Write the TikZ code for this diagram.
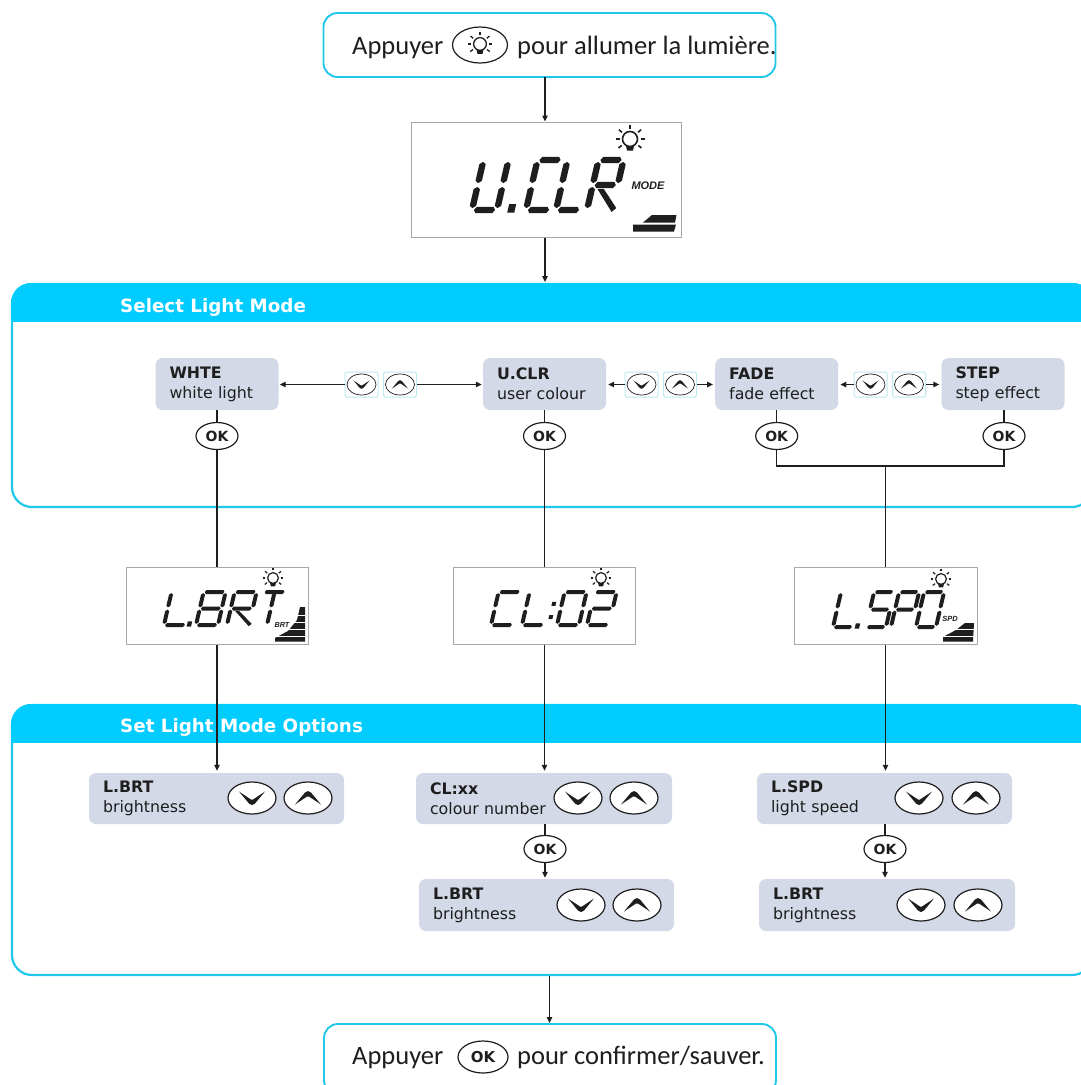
\documentclass[tikz,border=0pt]{standalone}
\usepackage{fontspec}
\setmainfont{Carlito}
\newfontfamily\vfont{DejaVu Sans}
\newfontfamily\afont{Liberation Sans}
\usetikzlibrary{arrows.meta,shapes.geometric}
\definecolor{cyanhead}{HTML}{00CCFF}
\definecolor{cyanline}{HTML}{22C8EA}
\definecolor{boxgray}{HTML}{D3D9E7}
\definecolor{palecyan}{HTML}{BDE9EE}
\definecolor{lcdline}{HTML}{A8A8A8}
\definecolor{ink}{HTML}{1E1E1E}
\tikzset{
 conn/.style={draw=ink,line width=1.3pt},
 arr/.style={conn,-{Triangle[length=6pt,width=5.5pt]}},
 callout/.style={draw=cyanline,line width=1.9pt,rounded corners=14pt,fill=white,inner sep=0pt},
 lcdbox/.style={draw=lcdline,line width=1pt,fill=white,inner sep=0pt},
 infobox/.style={fill=boxgray,rounded corners=7pt,inner ysep=0pt,inner xsep=14pt,align=left,
   font=\vfont\fontsize{15.8}{20}\selectfont,text=ink},
 okbtn/.style={ellipse,draw=ink,line width=1.2pt,fill=white,inner sep=0pt,minimum width=42pt,minimum height=27pt,
   font=\vfont\bfseries\fontsize{14}{14}\selectfont,text=ink},
 keybtn/.style={ellipse,draw=ink,line width=1.2pt,fill=white,inner sep=0pt},
 keyframe/.style={draw=palecyan,line width=1pt,fill=white,inner sep=0pt,rounded corners=1.5pt,minimum width=33pt,minimum height=25pt},
 paneltitle/.style={anchor=base west,text=white,font=\vfont\bfseries\fontsize{18.3}{18.3}\selectfont,inner sep=0pt},
 bigtext/.style={anchor=base west,inner sep=0pt,text=ink,font=\fontsize{26.5}{26.5}\selectfont},
 lcdlabel/.style={text=ink,inner sep=0pt,font=\afont\bfseries\itshape},
 seg/.style={fill=ink,draw=none}
}
\newcommand{\chev}{\fill[ink] (-13,-6.5) -- (-1,1.5) -- (1,1.5) -- (13,-6.5) -- (3,5.5) -- (0,7) -- (-3,5.5) -- cycle;}
\newcommand{\keyb}[7]{%
 \node[keybtn,minimum width=#4pt,minimum height=#5pt] (#1) at (#2,#3) {};
 \begin{scope}[shift={(#2,#3)},scale=#6,yscale=#7]\chev\end{scope}}
\newcommand{\bigkeys}[4]{\keyb{#1d}{#2}{#4}{48}{32}{1}{1}\keyb{#1u}{#3}{#4}{48}{32}{1}{-1}}
\newcommand{\smallkeys}[2]{%
 \node[keyframe] (#1fd) at (#2+16.5,384.5) {};
 \node[keyframe] (#1fu) at (#2+55,384.5) {};
 \node[keybtn,line width=.7pt,minimum width=29pt,minimum height=21pt] (#1d) at (#2+16.5,384.5) {};
 \node[keybtn,line width=.7pt,minimum width=29pt,minimum height=21pt] (#1u) at (#2+55,384.5) {};
 \begin{scope}[shift={(#2+16.5,384.5)},scale=.62]\chev\end{scope}
 \begin{scope}[shift={(#2+55,384.5)},scale=.62,yscale=-1]\chev\end{scope}}
\newcommand{\lamp}[4]{%
 \begin{scope}[shift={(#1,#2)},scale=#3]
  \draw[ink,line width=#4pt] (0,0) circle (7.5);
  \fill[ink] (-4,7) -- (4,7) -- (3,11.5) -- (-3,11.5) -- cycle;
  \foreach \a in {-90,-40,-140,0,180,38,142}
   \draw[ink,line width=#4pt] ({cos(\a)*10.5},{sin(\a)*10.5}) -- ({cos(\a)*14.5},{sin(\a)*14.5});
 \end{scope}}
\newcommand{\hs}[3]{\fill[seg] ({#1},{#3}) -- ({#1+\lT*.35},{#3-\lT/2}) -- ({#2-\lT*.35},{#3-\lT/2}) -- ({#2},{#3}) -- ({#2-\lT*.35},{#3+\lT/2}) -- ({#1+\lT*.35},{#3+\lT/2}) -- cycle;}
\newcommand{\vs}[3]{\fill[seg] ({#1},{#2}) -- ({#1+\lT/2},{#2+\lT*.35}) -- ({#1+\lT/2},{#3-\lT*.35}) -- ({#1},{#3}) -- ({#1-\lT/2},{#3-\lT*.35}) -- ({#1-\lT/2},{#2+\lT*.35}) -- cycle;}
\newcommand{\lsa}{\hs{\lG}{\lW-\lG}{-\lH}}
\newcommand{\lsb}{\vs{\lW}{-\lH+\lG}{-\lH/2-\lG}}
\newcommand{\lsc}{\vs{\lW}{-\lH/2+\lG}{-\lG}}
\newcommand{\lsd}{\hs{\lG}{\lW-\lG}{0}}
\newcommand{\lse}{\vs{0}{-\lH/2+\lG}{-\lG}}
\newcommand{\lsf}{\vs{0}{-\lH+\lG}{-\lH/2-\lG}}
\newcommand{\lsg}{\hs{\lG}{\lW-\lG}{-\lH/2}}
\newcommand{\lsi}{\vs{\lW/2}{-\lH+\lG}{-\lH/2-\lG}\vs{\lW/2}{-\lH/2+\lG}{-\lG}}
\newcommand{\lsr}{\fill[seg] ({\lW*.22},{-\lH/2+\lT*.6}) -- ({\lW*.22+\lT},{-\lH/2+\lT*.6}) -- ({\lW+\lT*.6},{-\lG}) -- ({\lW},{\lT*.3}) -- cycle;}
\newcommand{\lsdot}{\fill[seg] ({-\lT/2},{-\lT*.9}) rectangle ({\lT*.6},{\lT*.4});}
\newcommand{\lscol}{\fill[seg] ({-\lT*.5},{-\lH*.3}) rectangle ({\lT*.5},{-\lH*.3+\lT}); \fill[seg] ({-\lT*.5},{-\lH*.7}) rectangle ({\lT*.5},{-\lH*.7+\lT});}
\newcommand{\dg}[2]{\begin{scope}[xshift=#1pt]#2\end{scope}}
\newcommand{\lcdword}[6]{%
 \begin{scope}[shift={(#1,#2)},xslant=.23]
  \def\lW{#3}\def\lH{#4}\def\lT{#5}\pgfmathsetmacro\lG{#5*.3}
  #6
 \end{scope}}
\begin{document}
\begin{tikzpicture}[x=1pt,y=-1pt]
\useasboundingbox (0,0) rectangle (1081,1085);
\fill[white] (0,0) rectangle (1081,1085);
\clip (0,0) rectangle (1081,1085);

% panels
\draw[cyanline,line width=2.2pt,rounded corners=20pt,fill=white] (12,284) rectangle (1092,507);
\begin{scope}
 \clip (0,270) rectangle (1100,321);
 \fill[cyanhead,rounded corners=20pt] (11,283) rectangle (1093,360);
\end{scope}
\draw[cyanline,line width=2.2pt,rounded corners=20pt,fill=white] (12,705) rectangle (1092,975);
\begin{scope}
 \clip (0,690) rectangle (1100,742);
 \fill[cyanhead,rounded corners=20pt] (11,704) rectangle (1093,780);
\end{scope}
\node[paneltitle] (tselect) at (120,312) {Select Light Mode};
\node[paneltitle] (tset) at (120,732) {Set Light Mode Options};

% top and bottom callouts
\node[callout,minimum width=452pt,minimum height=64pt] (topbox) at (549.5,45) {};
\node[bigtext] (ttop1) at (352,54) {Appuyer};
\node[keybtn,minimum width=55pt,minimum height=36pt] (lampkey) at (480,45) {};
\lamp{480}{44}{.85}{1.3}
\node[bigtext] (ttop2) at (517,54) {pour allumer la lumière.};
\node[callout,minimum width=452pt,minimum height=70pt] (botbox) at (550,1059) {};
\node[bigtext] (tbot1) at (352,1064) {Appuyer};
\node[okbtn,minimum width=50pt,minimum height=32pt,font=\vfont\bfseries\fontsize{15}{15}\selectfont] (okbot) at (483,1057) {OK};
\node[bigtext] (tbot2) at (517,1064) {pour confirmer/sauver.};

% LCD boxes
\node[lcdbox,minimum width=270pt,minimum height=115pt] (lcdmode) at (546,179.5) {};
\node[lcdbox,minimum width=182pt,minimum height=77pt] (lcdbrt) at (217,606) {};
\node[lcdbox,minimum width=182pt,minimum height=77pt] (lcdcl) at (544.5,606) {};
\node[lcdbox,minimum width=183pt,minimum height=77pt] (lcdspd) at (885.5,606) {};

% info boxes
\node[infobox,text width=95pt,minimum height=52pt] (whte) at (217,384) {\textbf{WHTE}\\white light};
\node[infobox,text width=95pt,minimum height=52pt] (uclr) at (544.5,384) {\textbf{U.CLR}\\user colour};
\node[infobox,text width=95pt,minimum height=52pt] (fade) at (776.7,384) {\textbf{FADE}\\fade effect};
\node[infobox,text width=95pt,minimum height=52pt] (nstep) at (1003,384) {\textbf{STEP}\\step effect};
\node[infobox,text width=227pt,minimum height=51pt] (obrt) at (216.5,798.5) {\textbf{L.BRT}\\brightness};
\node[infobox,text width=228pt,minimum height=51pt] (ocl) at (544,798.5) {\textbf{CL:xx}\\colour number};
\node[infobox,text width=227pt,minimum height=51pt] (ospd) at (884.5,798.5) {\textbf{L.SPD}\\light speed};
\node[infobox,text width=227pt,minimum height=52pt] (obrtb) at (546.5,905) {\textbf{L.BRT}\\brightness};
\node[infobox,text width=228pt,minimum height=52pt] (obrtc) at (887,905) {\textbf{L.BRT}\\brightness};

% OK keys
\node[okbtn] (okw) at (217,436) {OK};
\node[okbtn] (oku) at (544.5,436) {OK};
\node[okbtn] (okf) at (776.7,436) {OK};
\node[okbtn] (oks) at (1004,436) {OK};
\node[okbtn] (okb) at (545,849) {OK};
\node[okbtn] (okc) at (885,849) {OK};

% arrow keys
\smallkeys{ka}{345}
\smallkeys{kb}{625}
\smallkeys{kc}{854}
\bigkeys{ko}{252}{308}{798}
\bigkeys{kp}{578}{634}{798}
\bigkeys{kq}{919}{976}{798}
\bigkeys{kr}{581}{637}{905}
\bigkeys{ks}{921}{978}{905}

% connectors
\coordinate (jn) at (885.5,466);
\coordinate (ta) at (545,77);
\coordinate (tb) at (545,237.5);
\coordinate (ptop) at (545,282);
\draw[arr] (ta) -- (ta |- lcdmode.north);
\draw[arr] (tb) -- (ptop);
\draw[conn] (whte.south) -- (okw.north);
\draw[conn] (uclr.south) -- (oku.north);
\draw[conn] (fade.south) -- (okf.north);
\draw[conn] (nstep.south -| oks.north) -- (oks.north);
\draw[conn] (okw.south) -- (lcdbrt.north);
\draw[conn] (oku.south) -- (lcdcl.north);
\draw[conn] (okf.south) |- (jn);
\draw[conn] (oks.south) |- (jn);
\draw[conn] (jn) -- (lcdspd.north);
\draw[arr,shorten >=2pt] (lcdbrt.south) -- (lcdbrt.south |- obrt.north);
\draw[arr,shorten >=2pt] (lcdcl.south) -- (lcdcl.south |- ocl.north);
\draw[arr,shorten >=2pt] (lcdspd.south) -- (lcdspd.south |- ospd.north);
\draw[conn] (okb.north |- ocl.south) -- (okb.north);
\draw[conn] (okc.north |- ospd.south) -- (okc.north);
\draw[arr,shorten >=1pt] (okb.south) -- (okb.south |- obrtb.north);
\draw[arr,shorten >=1pt] (okc.south) -- (okc.south |- obrtc.north);
\draw[arr] (kafd.west) -- ([xshift=1pt]whte.east |- kafd.west);
\draw[arr] (kafu.east) -- ([xshift=-1pt]uclr.west |- kafu.east);
\draw[arr] (kbfd.west) -- ([xshift=2pt]uclr.east |- kbfd.west);
\draw[arr] (kbfu.east) -- ([xshift=-2pt]fade.west |- kbfu.east);
\draw[arr] (kcfd.west) -- ([xshift=2pt]fade.east |- kcfd.west);
\draw[arr] (kcfu.east) -- ([xshift=-2pt]nstep.west |- kcfu.east);
\coordinate (pbot) at (549.5,976);
\draw[arr] (pbot) -- (pbot |- botbox.north);

% LCD contents
\lcdword{472}{210}{25}{50}{6.4}{%
 \dg{0}{\lsb\lsc\lsd\lse\lsf}
 \dg{39}{\lsdot}
 \dg{54}{\lsa\lsd\lse\lsf}
 \dg{84}{\lsd\lse\lsf}
 \dg{115}{\lsa\lsb\lsf\lse\lsg\lsr}}
\lamp{630}{139}{1}{1.6}
\node[lcdlabel,font=\afont\bfseries\itshape\fontsize{11}{11}\selectfont] (tmode) at (648,186) {MODE};
\fill[ink] (633,224.5) -- (676,224.5) -- (674,231.5) -- (633,231.5) -- cycle;
\fill[ink] (643,222.5) -- (652,215) -- (676.5,215) -- (675,222.5) -- cycle;

\lcdword{164}{625}{22}{33}{4}{%
 \dg{0}{\lsd\lse\lsf}
 \dg{25}{\lsdot}
 \dg{32}{\lsa\lsb\lsc\lsd\lse\lsf\lsg}
 \dg{63}{\lsa\lsb\lsf\lse\lsg\lsr}
 \dg{92}{\lsa\lsi}}
\lamp{273}{578}{.72}{1.2}
\fill[ink] (275,641.5) -- (275,638) -- (288,631) -- (297,620) -- (300,607) -- (305,607) -- (305,641.5) -- cycle;
\foreach \yy in {615,622,629,636} \draw[white,line width=.8pt] (272,\yy) -- (307,\yy);
\node[lcdlabel,font=\afont\bfseries\itshape\fontsize{7.3}{7.3}\selectfont] (tbrt) at (282,624.5) {BRT};

\lcdword{491}{625}{22}{33}{4}{%
 \dg{0}{\lsa\lsd\lse\lsf}
 \dg{31}{\lsd\lse\lsf}
 \dg{58}{\lscol}
 \dg{66}{\lsa\lsb\lsc\lsd\lse\lsf}
 \dg{96}{\lsa\lsb\lsg\lse\lsd}}
\lamp{601}{578}{.72}{1.2}

\lcdword{833}{627}{20}{35}{4}{%
 \dg{0}{\lsd\lse\lsf}
 \dg{24}{\lsdot}
 \dg{33}{\lsa\lsf\lsg\lsc\lsd}
 \dg{58}{\lsa\lsb\lsf\lse\lsg}
 \dg{83}{\lsa\lsb\lsc\lsd\lse\lsf}}
\lamp{941}{579}{.72}{1.2}
\node[lcdlabel,font=\afont\bfseries\itshape\fontsize{7.5}{7.5}\selectfont] (tspd) at (950,618.5) {SPD};
\fill[ink] (943,641.5) -- (943,637) -- (956,630) -- (965,623) -- (974,623) -- (973,641.5) -- cycle;
\foreach \yy in {629,636} \draw[white,line width=.8pt] (940,\yy) -- (976,\yy);
\end{tikzpicture}
\end{document}
